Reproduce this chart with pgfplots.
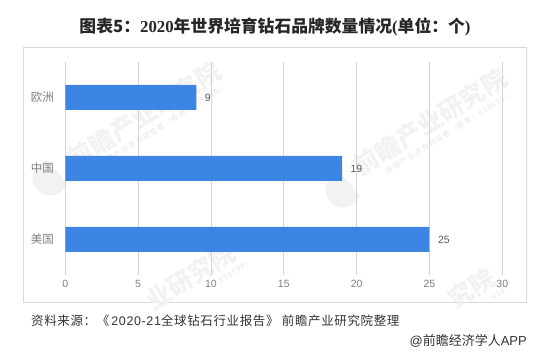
\documentclass[border=0pt]{standalone}
\usepackage{pgfplots}
\pgfplotsset{compat=1.18}
\usepackage{fontspec}
\setmainfont{Liberation Sans}
\newfontfamily\cjk{Noto Sans CJK SC}
\newfontfamily\cjksp[LetterSpace=5]{Noto Sans CJK SC}
\newfontfamily\sanssp[LetterSpace=5]{Liberation Sans}
\newfontfamily\wmsp[LetterSpace=12]{Noto Sans CJK SC}
\newfontfamily\tserif{Liberation Serif}
\definecolor{barblue}{HTML}{3D85E3}
\definecolor{gridgray}{HTML}{D4D4D4}
\definecolor{labgray}{HTML}{7F7F7F}
\definecolor{vallab}{HTML}{595959}
\definecolor{framegray}{HTML}{D9D9D9}
\definecolor{wm}{HTML}{F2F2F4}
\begin{document}
\begin{tikzpicture}[x=1pt,y=1pt]
\path (0,0) rectangle (549,356);
% frame
\draw[framegray,line width=1pt] (23.3,308.7) rectangle (526,53.7);
% watermark
\foreach \x/\y in {144/241,430/234}{
  \begin{scope}[shift={(\x,\y)},rotate=32,transform shape]
    \node[text=wm,font=\cjk\bfseries\fontsize{25}{25}\selectfont] at (0,0) {前瞻产业研究院};
    \node[text=wm!95!black,font=\wmsp\fontsize{7.5}{8}\selectfont] at (10,-19) {中国产业咨询领导者（股票：839599）};
  \end{scope}
}
\foreach \x/\y/\t/\s in {233/106/业研究院/：839599）,493/81/究院/839）}{
  \begin{scope}[shift={(\x,\y)},rotate=32,transform shape]
    \node[anchor=east,inner sep=0pt,text=wm,font=\cjk\bfseries\fontsize{25}{25}\selectfont] at (0,0) {\t};
    \node[anchor=east,inner sep=0pt,text=wm!95!black,font=\wmsp\fontsize{7.5}{8}\selectfont] at (10,-19) {\s};
  \end{scope}
}
\foreach \x/\y in {50/178,343/166}{
  \fill[wm] (\x,\y) circle (17.5);
  \fill[white] (\x-3,\y+18) -- (\x+18,\y+18) -- (\x+18,\y-6) -- cycle;
}
\begin{axis}[
  at={(65.3pt,81pt)},anchor=south west,
  scale only axis,width=437pt,height=213.3pt,
  xmin=0,xmax=30,ymin=-0.5,ymax=2.504,
  xbar,bar width=25pt,bar shift=0pt,
  axis line style={draw=none},
  axis x line*=bottom,axis y line*=left,
  xtick={0,5,...,30},ytick={0,1,2},
  yticklabels={{\cjk 美国},{\cjk 中国},{\cjk 欧洲}},
  major tick style={draw=none},
  xmajorgrids,grid style={gridgray,line width=0.9pt},
  tick label style={text=labgray},
  xticklabel style={font=\fontsize{10.5}{12}\selectfont,yshift=-2pt},
  yticklabel style={font=\fontsize{11.5}{13}\selectfont,xshift=-3.5pt},
  /pgf/number format/assume math mode=true,
  nodes near coords,
  nodes near coords style={text=vallab,font=\fontsize{10.5}{12}\selectfont,anchor=west,xshift=5pt},
]
\addplot[fill=barblue,draw=none] coordinates {(25,0) (19,1) (9,2)};
\end{axis}
% title
\node[anchor=center,text=black!85,font=\fontsize{16.8}{18}\selectfont] at (275,329) {\cjk\bfseries 图表5：{\tserif\bfseries 2020}年世界培育钻石品牌数量情况{\tserif\bfseries (}单位：个{\tserif\bfseries )}};
% source
\node[anchor=west,inner sep=0pt,text=black!80,font=\fontsize{12.5}{14}\selectfont] at (31,35) {\cjksp 资料来源：《\,{\sanssp 2020-21}全球钻石行业报告》 前瞻产业研究院整理};
\node[anchor=east,inner sep=0pt,text=black!80,font=\fontsize{13}{15}\selectfont] at (527,15.3) {@{\cjk 前瞻经济学人}APP};
\end{tikzpicture}
\end{document}
